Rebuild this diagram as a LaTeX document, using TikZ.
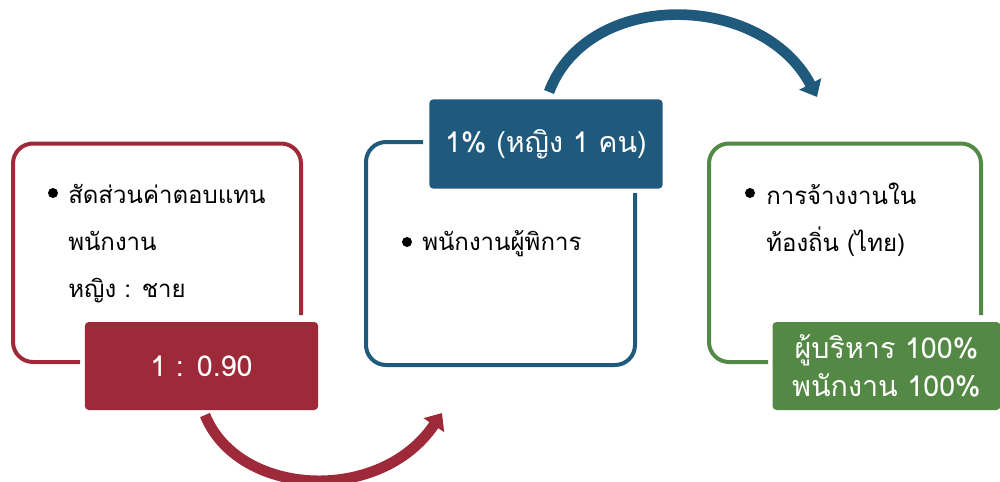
\documentclass[tikz,border=0pt]{standalone}
\usepackage{fontspec}
\newfontfamily\thai[Script=Thai]{Loma}
\usetikzlibrary{arrows.meta}
\definecolor{ratiored}{RGB}{158,41,56}
\definecolor{staffblue}{RGB}{31,89,124}
\definecolor{localgreen}{RGB}{84,137,69}
\tikzset{
  outline/.style={line width=3pt,rounded corners=15pt},
  tagbox/.style={rounded corners=3pt,text=white,align=center,inner sep=0pt,
    minimum height=66pt,font=\thai\fontsize{21.5}{29}\selectfont},
  bodytext/.style={anchor=west,align=left,inner sep=0pt,font=\thai\fontsize{18}{35}\selectfont},
  bulletdot/.style={circle,fill=black,inner sep=0pt,minimum size=7.5pt},
  bigarrow/.style={line width=8pt,-{Triangle[length=11pt,width=18pt]}},
}
\begin{document}
\begin{tikzpicture}[x=0.75pt,y=-0.75pt]
  \useasboundingbox (0,0) rectangle (1000,482);
  % outlines with a gap where the coloured tag sits
  \draw[outline,ratiored] (80,362) -- (13,362) -- (13,143.5) -- (301,143.5) -- (301,315);
  \draw[outline,staffblue] (423,142) -- (366,142) -- (366,365) -- (635,365) -- (635,193);
  \draw[outline,localgreen] (768,362) -- (709,362) -- (709,143.5) -- (981,143.5) -- (981,315);
  % tags
  \node[tagbox,fill=ratiored,minimum width=175pt] (ratio) at (201.5,366) {1 : 0.90};
  \node[tagbox,fill=staffblue,minimum width=175pt,minimum height=67pt] (disabled) at (546,144) {1\% (หญิง 1 คน)};
  \node[tagbox,fill=localgreen,minimum width=171pt] (local) at (886.5,366) {ผู้บริหาร 100\%\\พนักงาน 100\%};
  % bullets and texts
  \node[bulletdot] (b1) at (53,193) {};
  \node[bodytext] (t1) at (68,243.5) {สัดส่วนค่าตอบแทน\\พนักงาน\\หญิง : ชาย};
  \node[bulletdot] (b2) at (407,242) {};
  \node[bodytext] (t2) at (422,244) {พนักงานผู้พิการ};
  \node[bulletdot] (b3) at (750,193) {};
  \node[bodytext] (t3) at (766,220) {การจ้างงานใน\\ท้องถิ่น (ไทย)};
  % connectors
  \coordinate (r0) at (205,415);
  \coordinate (r1) at (442,413);
  \coordinate (u0) at (549,92);
  \coordinate (u1) at (817,97);
  \draw[bigarrow,ratiored] (r0) .. controls (238,497) and (380,505) .. (r1);
  \draw[bigarrow,staffblue] (u0) .. controls (588,-12) and (762,-8) .. (u1);
\end{tikzpicture}
\end{document}
